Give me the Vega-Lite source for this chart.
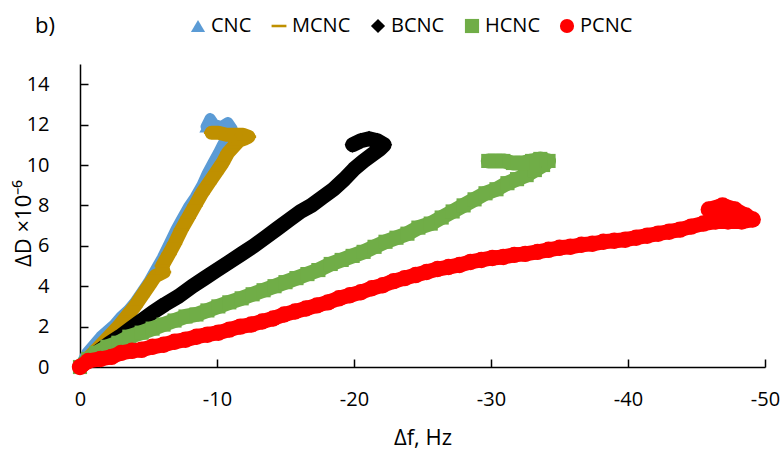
{
  "$schema": "https://vega.github.io/schema/vega-lite/v6.json",
  "width": 685,
  "height": 303,
  "autosize": {"type": "none"},
  "padding": {"left": 80, "top": 64, "right": 17, "bottom": 82},
  "background": "white",
  "title": {"text": "b)", "anchor": "start", "frame": "group", "orient": "top", "fontSize": 22, "font": "Open Sans", "fontWeight": "normal", "color": "#000000", "baseline": "alphabetic", "offset": 0, "dx": -45, "dy": 39},
  "config": {"view": {"stroke": null}, "font": "Open Sans"},
  "datasets": {
    "d": [
      {"s":"CNC","i":0,"x":0,"y":0},{"s":"CNC","i":1,"x":-0.5,"y":0.7},{"s":"CNC","i":2,"x":-1.0,"y":1.1},{"s":"CNC","i":3,"x":-1.5,"y":1.5},{"s":"CNC","i":4,"x":-2.0,"y":1.8},{"s":"CNC","i":5,"x":-2.5,"y":2.1},{"s":"CNC","i":6,"x":-3.0,"y":2.5},{"s":"CNC","i":7,"x":-3.5,"y":2.8},{"s":"CNC","i":8,"x":-4.0,"y":3.2},{"s":"CNC","i":9,"x":-4.5,"y":3.7},{"s":"CNC","i":10,"x":-5.0,"y":4.2},{"s":"CNC","i":11,"x":-5.5,"y":4.8},{"s":"CNC","i":12,"x":-6.0,"y":5.4},{"s":"CNC","i":13,"x":-6.5,"y":6.1},{"s":"CNC","i":14,"x":-7.0,"y":6.8},{"s":"CNC","i":15,"x":-7.4,"y":7.3},{"s":"CNC","i":16,"x":-7.9,"y":7.9},{"s":"CNC","i":17,"x":-8.4,"y":8.4},{"s":"CNC","i":18,"x":-8.9,"y":9.0},{"s":"CNC","i":19,"x":-9.3,"y":9.6},{"s":"CNC","i":20,"x":-9.7,"y":10.1},{"s":"CNC","i":21,"x":-10.1,"y":10.6},{"s":"CNC","i":22,"x":-10.4,"y":11.0},{"s":"CNC","i":23,"x":-10.8,"y":11.5},{"s":"CNC","i":24,"x":-11.1,"y":11.8},{"s":"CNC","i":25,"x":-10.8,"y":12.1},{"s":"CNC","i":26,"x":-10.3,"y":11.9},{"s":"CNC","i":27,"x":-9.8,"y":12.0},{"s":"CNC","i":28,"x":-9.5,"y":12.3},{"s":"CNC","i":29,"x":-9.2,"y":11.9},
      {"s":"MCNC","i":0,"x":0,"y":0},{"s":"MCNC","i":1,"x":-0.7,"y":0.5},{"s":"MCNC","i":2,"x":-1.4,"y":1.0},{"s":"MCNC","i":3,"x":-2.1,"y":1.5},{"s":"MCNC","i":4,"x":-2.8,"y":2.0},{"s":"MCNC","i":5,"x":-3.4,"y":2.5},{"s":"MCNC","i":6,"x":-4.0,"y":3.0},{"s":"MCNC","i":7,"x":-4.5,"y":3.5},{"s":"MCNC","i":8,"x":-5.0,"y":4.0},{"s":"MCNC","i":9,"x":-5.5,"y":4.5},{"s":"MCNC","i":10,"x":-6.1,"y":4.7},{"s":"MCNC","i":11,"x":-6.0,"y":5.0},{"s":"MCNC","i":12,"x":-6.5,"y":5.6},{"s":"MCNC","i":13,"x":-6.9,"y":6.1},{"s":"MCNC","i":14,"x":-7.4,"y":6.8},{"s":"MCNC","i":15,"x":-7.9,"y":7.4},{"s":"MCNC","i":16,"x":-8.4,"y":8.0},{"s":"MCNC","i":17,"x":-8.9,"y":8.6},{"s":"MCNC","i":18,"x":-9.4,"y":9.1},{"s":"MCNC","i":19,"x":-9.9,"y":9.6},{"s":"MCNC","i":20,"x":-10.4,"y":10.1},{"s":"MCNC","i":21,"x":-10.8,"y":10.6},{"s":"MCNC","i":22,"x":-11.2,"y":10.9},{"s":"MCNC","i":23,"x":-11.6,"y":11.2},{"s":"MCNC","i":24,"x":-12.0,"y":11.3},{"s":"MCNC","i":25,"x":-12.3,"y":11.4},{"s":"MCNC","i":26,"x":-11.9,"y":11.5},{"s":"MCNC","i":27,"x":-11.3,"y":11.5},{"s":"MCNC","i":28,"x":-10.7,"y":11.5},{"s":"MCNC","i":29,"x":-10.1,"y":11.6},{"s":"MCNC","i":30,"x":-9.6,"y":11.6},
      {"s":"BCNC","i":0,"x":0,"y":0},{"s":"BCNC","i":1,"x":-0.7,"y":0.4},{"s":"BCNC","i":2,"x":-1.4,"y":0.8},{"s":"BCNC","i":3,"x":-2.2,"y":1.2},{"s":"BCNC","i":4,"x":-2.9,"y":1.5},{"s":"BCNC","i":5,"x":-3.7,"y":1.9},{"s":"BCNC","i":6,"x":-4.5,"y":2.3},{"s":"BCNC","i":7,"x":-5.3,"y":2.7},{"s":"BCNC","i":8,"x":-6.2,"y":3.1},{"s":"BCNC","i":9,"x":-7.2,"y":3.5},{"s":"BCNC","i":10,"x":-8.2,"y":4.0},{"s":"BCNC","i":11,"x":-9.1,"y":4.4},{"s":"BCNC","i":12,"x":-10.0,"y":4.8},{"s":"BCNC","i":13,"x":-10.9,"y":5.2},{"s":"BCNC","i":14,"x":-11.8,"y":5.6},{"s":"BCNC","i":15,"x":-12.7,"y":6.0},{"s":"BCNC","i":16,"x":-13.6,"y":6.45},{"s":"BCNC","i":17,"x":-14.4,"y":6.85},{"s":"BCNC","i":18,"x":-15.3,"y":7.3},{"s":"BCNC","i":19,"x":-16.1,"y":7.7},{"s":"BCNC","i":20,"x":-16.9,"y":8.0},{"s":"BCNC","i":21,"x":-17.7,"y":8.4},{"s":"BCNC","i":22,"x":-18.5,"y":8.8},{"s":"BCNC","i":23,"x":-19.3,"y":9.3},{"s":"BCNC","i":24,"x":-20.0,"y":9.8},{"s":"BCNC","i":25,"x":-20.7,"y":10.2},{"s":"BCNC","i":26,"x":-21.3,"y":10.5},{"s":"BCNC","i":27,"x":-21.9,"y":10.8},{"s":"BCNC","i":28,"x":-22.2,"y":11.0},{"s":"BCNC","i":29,"x":-21.7,"y":11.2},{"s":"BCNC","i":30,"x":-21.1,"y":11.3},{"s":"BCNC","i":31,"x":-20.5,"y":11.2},{"s":"BCNC","i":32,"x":-19.9,"y":11.0},
      {"s":"HCNC","i":0,"x":0,"y":0},{"s":"HCNC","i":1,"x":-0.6,"y":0.4},{"s":"HCNC","i":2,"x":-1.2,"y":0.7},{"s":"HCNC","i":3,"x":-2.0,"y":1.0},{"s":"HCNC","i":4,"x":-2.8,"y":1.2},{"s":"HCNC","i":5,"x":-3.6,"y":1.5},{"s":"HCNC","i":6,"x":-4.5,"y":1.7},{"s":"HCNC","i":7,"x":-5.3,"y":1.9},{"s":"HCNC","i":8,"x":-6.1,"y":2.1},{"s":"HCNC","i":9,"x":-6.9,"y":2.3},{"s":"HCNC","i":10,"x":-7.7,"y":2.5},{"s":"HCNC","i":11,"x":-8.5,"y":2.6},{"s":"HCNC","i":12,"x":-9.3,"y":2.8},{"s":"HCNC","i":13,"x":-10.1,"y":3.0},{"s":"HCNC","i":14,"x":-10.9,"y":3.2},{"s":"HCNC","i":15,"x":-11.8,"y":3.4},{"s":"HCNC","i":16,"x":-12.6,"y":3.6},{"s":"HCNC","i":17,"x":-13.4,"y":3.8},{"s":"HCNC","i":18,"x":-14.2,"y":4.0},{"s":"HCNC","i":19,"x":-15.0,"y":4.2},{"s":"HCNC","i":20,"x":-15.8,"y":4.4},{"s":"HCNC","i":21,"x":-16.6,"y":4.6},{"s":"HCNC","i":22,"x":-17.4,"y":4.8},{"s":"HCNC","i":23,"x":-18.3,"y":5.1},{"s":"HCNC","i":24,"x":-19.1,"y":5.3},{"s":"HCNC","i":25,"x":-19.9,"y":5.5},{"s":"HCNC","i":26,"x":-20.7,"y":5.7},{"s":"HCNC","i":27,"x":-21.5,"y":5.95},{"s":"HCNC","i":28,"x":-22.3,"y":6.2},{"s":"HCNC","i":29,"x":-23.1,"y":6.4},{"s":"HCNC","i":30,"x":-23.9,"y":6.6},{"s":"HCNC","i":31,"x":-24.7,"y":6.9},{"s":"HCNC","i":32,"x":-25.6,"y":7.1},{"s":"HCNC","i":33,"x":-26.4,"y":7.4},{"s":"HCNC","i":34,"x":-27.2,"y":7.7},{"s":"HCNC","i":35,"x":-28.0,"y":8.0},{"s":"HCNC","i":36,"x":-28.8,"y":8.3},{"s":"HCNC","i":37,"x":-29.6,"y":8.6},{"s":"HCNC","i":38,"x":-30.4,"y":8.8},{"s":"HCNC","i":39,"x":-31.2,"y":9.1},{"s":"HCNC","i":40,"x":-31.9,"y":9.3},{"s":"HCNC","i":41,"x":-32.6,"y":9.5},{"s":"HCNC","i":42,"x":-33.2,"y":9.75},{"s":"HCNC","i":43,"x":-33.8,"y":10.0},{"s":"HCNC","i":44,"x":-34.2,"y":10.2},{"s":"HCNC","i":45,"x":-33.6,"y":10.3},{"s":"HCNC","i":46,"x":-33.0,"y":10.2},{"s":"HCNC","i":47,"x":-32.3,"y":10.1},{"s":"HCNC","i":48,"x":-31.6,"y":10.1},{"s":"HCNC","i":49,"x":-30.9,"y":10.2},{"s":"HCNC","i":50,"x":-30.3,"y":10.2},{"s":"HCNC","i":51,"x":-29.8,"y":10.2},
      {"s":"PCNC","i":0,"x":0,"y":0},{"s":"PCNC","i":1,"x":-0.6,"y":0.3},{"s":"PCNC","i":2,"x":-1.5,"y":0.4},{"s":"PCNC","i":3,"x":-2.3,"y":0.5},{"s":"PCNC","i":4,"x":-3.0,"y":0.7},{"s":"PCNC","i":5,"x":-3.8,"y":0.8},{"s":"PCNC","i":6,"x":-4.5,"y":0.85},{"s":"PCNC","i":7,"x":-5.3,"y":1.0},{"s":"PCNC","i":8,"x":-6.1,"y":1.1},{"s":"PCNC","i":9,"x":-6.9,"y":1.25},{"s":"PCNC","i":10,"x":-7.7,"y":1.35},{"s":"PCNC","i":11,"x":-8.5,"y":1.5},{"s":"PCNC","i":12,"x":-9.3,"y":1.6},{"s":"PCNC","i":13,"x":-10.1,"y":1.7},{"s":"PCNC","i":14,"x":-10.9,"y":1.85},{"s":"PCNC","i":15,"x":-11.7,"y":2.0},{"s":"PCNC","i":16,"x":-12.5,"y":2.1},{"s":"PCNC","i":17,"x":-13.3,"y":2.25},{"s":"PCNC","i":18,"x":-14.1,"y":2.4},{"s":"PCNC","i":19,"x":-14.9,"y":2.6},{"s":"PCNC","i":20,"x":-15.7,"y":2.75},{"s":"PCNC","i":21,"x":-16.5,"y":2.9},{"s":"PCNC","i":22,"x":-17.3,"y":3.05},{"s":"PCNC","i":23,"x":-18.1,"y":3.2},{"s":"PCNC","i":24,"x":-18.9,"y":3.4},{"s":"PCNC","i":25,"x":-19.7,"y":3.55},{"s":"PCNC","i":26,"x":-20.5,"y":3.7},{"s":"PCNC","i":27,"x":-21.3,"y":3.9},{"s":"PCNC","i":28,"x":-22.1,"y":4.05},{"s":"PCNC","i":29,"x":-22.9,"y":4.25},{"s":"PCNC","i":30,"x":-23.7,"y":4.4},{"s":"PCNC","i":31,"x":-24.5,"y":4.55},{"s":"PCNC","i":32,"x":-25.3,"y":4.7},{"s":"PCNC","i":33,"x":-26.1,"y":4.85},{"s":"PCNC","i":34,"x":-26.9,"y":4.95},{"s":"PCNC","i":35,"x":-27.7,"y":5.05},{"s":"PCNC","i":36,"x":-28.5,"y":5.2},{"s":"PCNC","i":37,"x":-29.3,"y":5.3},{"s":"PCNC","i":38,"x":-30.1,"y":5.4},{"s":"PCNC","i":39,"x":-30.9,"y":5.45},{"s":"PCNC","i":40,"x":-31.7,"y":5.55},{"s":"PCNC","i":41,"x":-32.5,"y":5.6},{"s":"PCNC","i":42,"x":-33.4,"y":5.7},{"s":"PCNC","i":43,"x":-34.2,"y":5.8},{"s":"PCNC","i":44,"x":-35.0,"y":5.9},{"s":"PCNC","i":45,"x":-35.8,"y":5.95},{"s":"PCNC","i":46,"x":-36.6,"y":6.05},{"s":"PCNC","i":47,"x":-37.4,"y":6.1},{"s":"PCNC","i":48,"x":-38.2,"y":6.2},{"s":"PCNC","i":49,"x":-39.0,"y":6.25},{"s":"PCNC","i":50,"x":-39.8,"y":6.3},{"s":"PCNC","i":51,"x":-40.6,"y":6.4},{"s":"PCNC","i":52,"x":-41.4,"y":6.5},{"s":"PCNC","i":53,"x":-42.2,"y":6.6},{"s":"PCNC","i":54,"x":-43.0,"y":6.7},{"s":"PCNC","i":55,"x":-43.8,"y":6.8},{"s":"PCNC","i":56,"x":-44.6,"y":6.95},{"s":"PCNC","i":57,"x":-45.5,"y":7.1},{"s":"PCNC","i":58,"x":-46.4,"y":7.2},{"s":"PCNC","i":59,"x":-47.3,"y":7.2},{"s":"PCNC","i":60,"x":-48.3,"y":7.2},{"s":"PCNC","i":61,"x":-49.1,"y":7.3},{"s":"PCNC","i":62,"x":-48.6,"y":7.5},{"s":"PCNC","i":63,"x":-47.8,"y":7.8},{"s":"PCNC","i":64,"x":-46.9,"y":8.0},{"s":"PCNC","i":65,"x":-45.9,"y":7.8}
    ]
  },
  "data": {"name": "d"},
  "encoding": {
    "x": {"field": "x", "type": "quantitative", "scale": {"domain": [-50, 0], "reverse": true, "nice": false, "zero": false},
      "axis": {"values": [0, -10, -20, -30, -40, -50], "labelExpr": "replace(datum.label, '−', '-')", "title": "Δf, Hz", "grid": false, "tickSize": -8, "labelPadding": 30, "labelFlush": false, "labelOverlap": false, "domainColor": "#000000", "domainWidth": 1.5, "tickColor": "#000000", "tickWidth": 1.5, "labelFontSize": 20, "labelColor": "#000000", "labelFont": "Open Sans", "titleFont": "Open Sans", "titleFontSize": 22, "titleFontWeight": "normal", "titleColor": "#000000", "titleY": 70, "titleBaseline": "middle"}},
    "y": {"field": "y", "type": "quantitative", "scale": {"domain": [0, 15], "nice": false},
      "axis": {"values": [0, 2, 4, 6, 8, 10, 12, 14], "title": "ΔD ×10⁻⁶", "grid": false, "tickSize": -8, "labelPadding": 39, "labelFlush": false, "labelOverlap": false, "domainColor": "#000000", "domainWidth": 1.5, "tickColor": "#000000", "tickWidth": 1.5, "labelFontSize": 20, "labelColor": "#000000", "labelFont": "Open Sans", "titleFont": "Open Sans", "titleFontSize": 22, "titleFontWeight": "normal", "titleColor": "#000000", "titleX": -57, "titleY": 159, "titleAngle": 270, "titleAlign": "center", "titleBaseline": "middle"}}
  },
  "layer": [
    {"transform": [{"filter": "datum.s === 'CNC'"}], "mark": {"type": "line", "color": "#5B9BD5", "strokeWidth": 11, "strokeCap": "round", "strokeJoin": "round"}, "encoding": {"order": {"field": "i"}}},
    {"transform": [{"filter": "datum.s === 'CNC'"}], "mark": {"type": "point", "filled": true, "opacity": 1, "size": 180},
      "encoding": {
        "color": {"field": "s", "type": "nominal", "scale": {"domain": ["CNC", "MCNC", "BCNC", "HCNC", "PCNC"], "range": ["#5B9BD5", "#BF9000", "#000000", "#70AD47", "#FF0000"]},
          "legend": {"orient": "none", "legendX": 108, "legendY": -48, "direction": "horizontal", "title": null, "labelFontSize": 20, "labelFont": "Open Sans", "labelColor": "#000000", "symbolSize": 200, "labelOffset": 3, "columnPadding": 17, "padding": 0, "symbolStrokeWidth": 0, "symbolOpacity": 1}},
        "shape": {"field": "s", "type": "nominal", "scale": {"domain": ["CNC", "MCNC", "BCNC", "HCNC", "PCNC"], "range": ["triangle-up", "M-1.05,-0.18H1.05V0.18H-1.05Z", "diamond", "square", "circle"]},
          "legend": {"orient": "none", "legendX": 108, "legendY": -48, "direction": "horizontal", "title": null, "labelFontSize": 20, "labelFont": "Open Sans", "labelColor": "#000000", "symbolSize": 200, "labelOffset": 3, "columnPadding": 17, "padding": 0, "symbolStrokeWidth": 0, "symbolOpacity": 1}}
      }},
    {"transform": [{"filter": "datum.s === 'MCNC'"}], "mark": {"type": "line", "color": "#BF9000", "strokeWidth": 14, "strokeCap": "round", "strokeJoin": "round"}, "encoding": {"order": {"field": "i"}}},
    {"transform": [{"filter": "datum.s === 'MCNC'"}], "mark": {"type": "point", "filled": true, "opacity": 1, "size": 210},
      "encoding": {"color": {"field": "s", "type": "nominal"}, "shape": {"field": "s", "type": "nominal"}}},
    {"transform": [{"filter": "datum.s === 'BCNC'"}], "mark": {"type": "line", "color": "#000000", "strokeWidth": 15, "strokeCap": "round", "strokeJoin": "round"}, "encoding": {"order": {"field": "i"}}},
    {"transform": [{"filter": "datum.s === 'BCNC'"}], "mark": {"type": "point", "filled": true, "opacity": 1, "size": 260},
      "encoding": {"color": {"field": "s", "type": "nominal"}, "shape": {"field": "s", "type": "nominal"}}},
    {"transform": [{"filter": "datum.s === 'HCNC'"}], "mark": {"type": "line", "color": "#70AD47", "strokeWidth": 15, "strokeCap": "round", "strokeJoin": "round"}, "encoding": {"order": {"field": "i"}}},
    {"transform": [{"filter": "datum.s === 'HCNC'"}], "mark": {"type": "point", "filled": true, "opacity": 1, "size": 200},
      "encoding": {"color": {"field": "s", "type": "nominal"}, "shape": {"field": "s", "type": "nominal"}}},
    {"transform": [{"filter": "datum.s === 'PCNC'"}], "mark": {"type": "line", "color": "#FF0000", "strokeWidth": 15, "strokeCap": "round", "strokeJoin": "round"}, "encoding": {"order": {"field": "i"}}},
    {"transform": [{"filter": "datum.s === 'PCNC'"}], "mark": {"type": "point", "filled": true, "opacity": 1, "size": 270},
      "encoding": {"color": {"field": "s", "type": "nominal"}, "shape": {"field": "s", "type": "nominal"}}}
  ]
}
